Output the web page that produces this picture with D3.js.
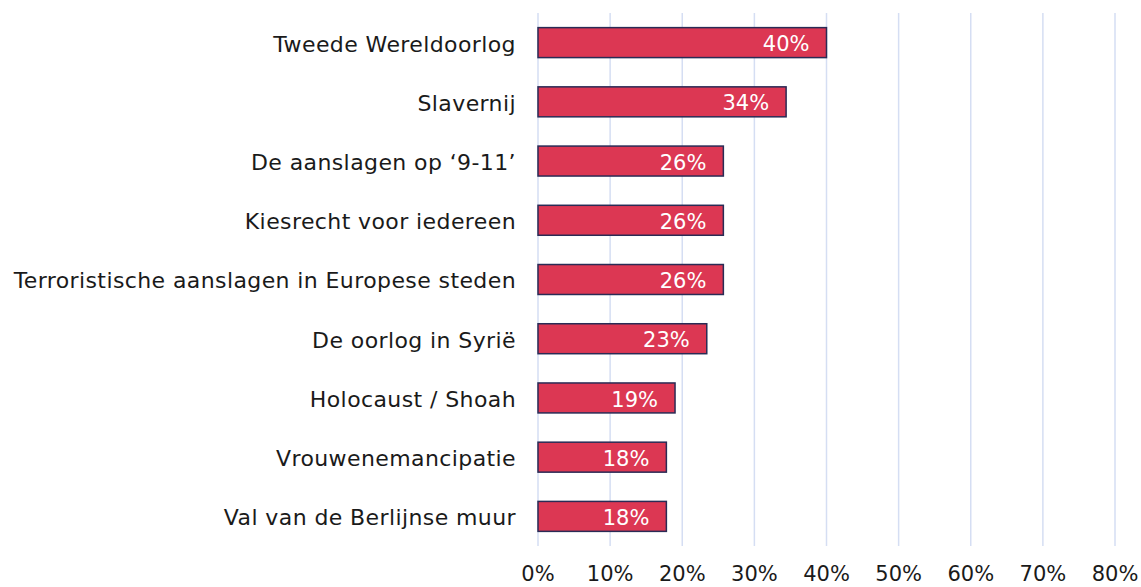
<!doctype html>
<html>
<head>
    <meta charset="utf-8">
    <script src="https://d3js.org/d3.v7.min.js"></script>
    <style>
        body { margin: 0; background: #fff; }
        svg { display: block; }
        text { font-family: "DejaVu Sans", sans-serif; }
    </style>
</head>
<body>
<svg id="chart" width="1141" height="587"></svg>
<script>
    // categories top to bottom
    var categories = [
        "Tweede Wereldoorlog",
        "Slavernij",
        "De aanslagen op \u20189-11\u2019",
        "Kiesrecht voor iedereen",
        "Terroristische aanslagen in Europese steden",
        "De oorlog in Syri\u00eb",
        "Holocaust / Shoah",
        "Vrouwenemancipatie",
        "Val van de Berlijnse muur"
    ];
    // share of respondents
    var values = [0.40, 0.344, 0.257, 0.257, 0.257, 0.234, 0.19, 0.178, 0.178];
    var ticks = [0, 0.1, 0.2, 0.3, 0.4, 0.5, 0.6, 0.7, 0.8];

    var svg = d3.select("#chart");

    var x = d3.scaleLinear()
        .domain([0, 0.8])
        .range([538, 1115]);

    var y = d3.scaleBand()
        .domain(categories)
        .range([13, 546])
        .paddingInner(0.494)
        .paddingOuter(0.247);

    var fmt = d3.format(".0%");

    // vertical gridlines
    svg.append("g")
        .selectAll("line")
        .data(ticks)
        .enter()
        .append("line")
        .attr("x1", d => x(d))
        .attr("x2", d => x(d))
        .attr("y1", 13)
        .attr("y2", 546)
        .style("stroke", "#d5def3")
        .style("stroke-width", 1.5);

    // tick labels
    svg.append("g")
        .selectAll("text")
        .data(ticks)
        .enter()
        .append("text")
        .attr("x", d => x(d))
        .attr("y", 581)
        .attr("text-anchor", "middle")
        .style("font-size", "21px")
        .style("fill", "#1a1a1a")
        .text(d => fmt(d));

    // bars
    svg.append("g")
        .selectAll("rect")
        .data(values)
        .enter()
        .append("rect")
        .attr("x", x(0))
        .attr("y", (d, i) => y(categories[i]))
        .attr("width", d => x(d) - x(0))
        .attr("height", y.bandwidth())
        .style("fill", "#dc3753")
        .style("stroke", "#2a2b55")
        .style("stroke-width", 1.5);

    // value labels inside bars
    svg.append("g")
        .selectAll("text")
        .data(values)
        .enter()
        .append("text")
        .attr("x", d => x(d) - 17)
        .attr("y", (d, i) => y(categories[i]) + y.bandwidth() / 2 + 1)
        .attr("dy", "0.36em")
        .attr("text-anchor", "end")
        .style("font-size", "21px")
        .style("fill", "#ffffff")
        .text(d => fmt(d));

    // category labels
    svg.append("g")
        .selectAll("text")
        .data(categories)
        .enter()
        .append("text")
        .attr("x", 516)
        .attr("y", d => y(d) + y.bandwidth() / 2 + 1)
        .attr("dy", "0.36em")
        .attr("text-anchor", "end")
        .style("font-size", "22px")
        .style("letter-spacing", "0.4px")
        .style("fill", "#1a1a1a")
        .text(d => d);
</script>
</body>
</html>
